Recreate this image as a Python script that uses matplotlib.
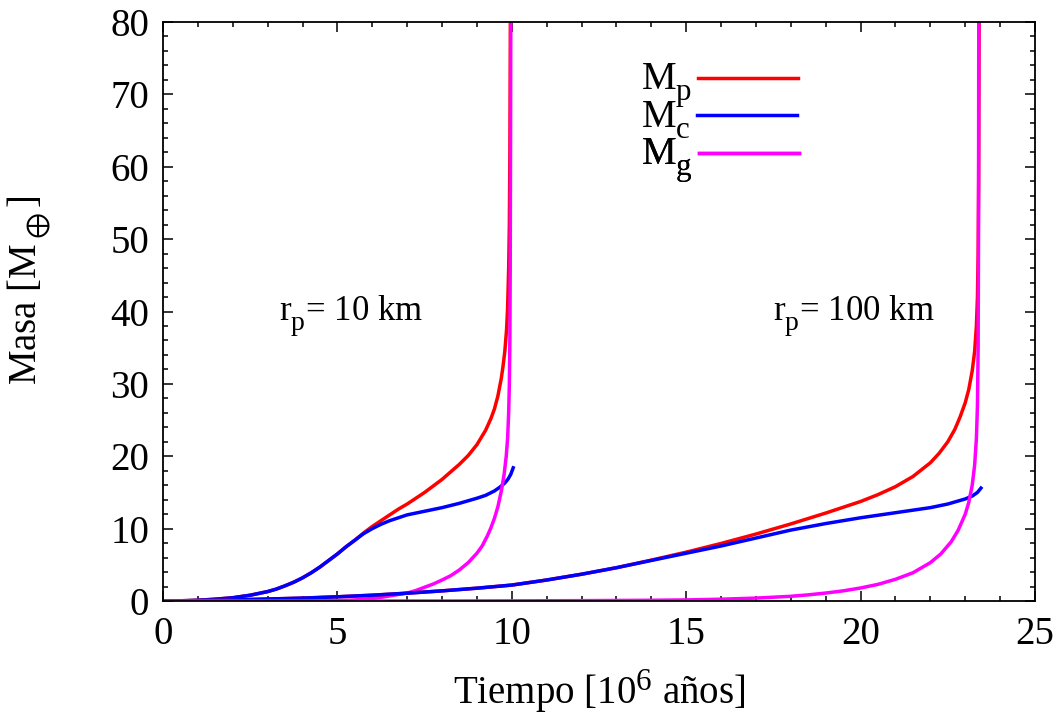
import matplotlib
matplotlib.use("Agg")
import matplotlib.pyplot as plt
from matplotlib.ticker import MultipleLocator

# gnuplot-like (bigger) sub/superscripts
try:
    import matplotlib._mathtext as _mt
    _mt.SHRINK_FACTOR = 0.8
    _mt.FontConstantsBase.sub1 = 0.6
    _mt.FontConstantsBase.sup1 = 0.7
except Exception:
    pass

plt.rcParams['font.family'] = ['Liberation Serif', 'DejaVu Serif']
plt.rcParams['mathtext.fontset'] = 'custom'
plt.rcParams['mathtext.rm'] = 'Liberation Serif'
plt.rcParams['mathtext.it'] = 'Liberation Serif:italic'
plt.rcParams['mathtext.fallback'] = 'stix'

# ---- r_p = 10 km ----
t_p10 = [0, 0.5, 1, 1.5, 2, 2.5, 3, 3.25, 3.5, 3.75, 4, 4.25, 4.5, 4.75, 5, 5.25,
         5.5, 5.75, 6, 6.25, 6.5, 6.75, 7, 7.5, 8, 8.5, 8.75, 9, 9.25, 9.4, 9.5,
         9.6, 9.7, 9.75, 9.8, 9.85, 9.88, 9.91, 9.93, 9.945, 9.955, 9.965]
Mp10 = [0, 0.03, 0.1, 0.25, 0.45, 0.8, 1.3, 1.65, 2.1, 2.6, 3.2, 3.9, 4.7, 5.6,
        6.5, 7.5, 8.4, 9.4, 10.3, 11.1, 11.9, 12.7, 13.4, 15.0, 16.8, 18.9, 20.1,
        21.6, 23.6, 25.2, 26.5, 28.3, 30.8, 32.5, 34.5, 37.5, 40.5, 46, 52, 62,
        75, 90]
t_c10 = [0, 0.5, 1, 1.5, 2, 2.5, 3, 3.25, 3.5, 3.75, 4, 4.25, 4.5, 4.75, 5, 5.25,
         5.5, 5.75, 6, 6.25, 6.5, 6.75, 7, 7.5, 8, 8.5, 9, 9.25, 9.5, 9.65, 9.8,
         9.9, 9.97, 10.04]
Mc10 = [0, 0.03, 0.1, 0.25, 0.45, 0.8, 1.3, 1.65, 2.1, 2.6, 3.2, 3.9, 4.7, 5.6,
        6.5, 7.5, 8.4, 9.3, 10.0, 10.6, 11.1, 11.5, 11.9, 12.4, 12.9, 13.5, 14.2,
        14.6, 15.2, 15.7, 16.3, 16.9, 17.5, 18.4]
t_g10 = [0, 3, 4.5, 5, 5.5, 6, 6.25, 6.5, 6.75, 7, 7.25, 7.5, 7.75, 8, 8.25, 8.5,
         8.75, 9, 9.15, 9.3, 9.4, 9.5, 9.6, 9.7, 9.78, 9.84, 9.88, 9.91, 9.93,
         9.945, 9.955, 9.965, 9.975]
Mg10 = [0, 0, 0.02, 0.05, 0.15, 0.35, 0.5, 0.7, 0.9, 1.1, 1.45, 1.9, 2.35, 2.9,
        3.5, 4.3, 5.3, 6.6, 7.6, 9.0, 10.1, 11.4, 13.0, 15.2, 17.5, 20.0, 22.5,
        26, 30, 36, 46, 65, 90]

# ---- r_p = 100 km ----
t_p100 = [0, 1, 2, 3, 4, 5, 6, 7, 8, 9, 10, 11, 12, 13, 14, 15, 16, 17, 18, 19,
          20, 20.5, 21, 21.5, 22, 22.25, 22.5, 22.7, 22.85, 23, 23.1, 23.2, 23.27,
          23.32, 23.35, 23.37, 23.385, 23.395, 23.405]
Mp100 = [0, 0.05, 0.15, 0.27, 0.4, 0.58, 0.8, 1.08, 1.4, 1.77, 2.2, 2.9, 3.7,
         4.6, 5.65, 6.75, 7.95, 9.25, 10.65, 12.15, 13.75, 14.7, 15.8, 17.2, 19.1,
         20.4, 22.0, 23.7, 25.4, 27.4, 29.2, 31.8, 34.5, 38, 42, 48, 58, 75, 90]
t_c100 = [0, 1, 2, 3, 4, 5, 6, 7, 8, 9, 10, 11, 12, 13, 14, 15, 16, 17, 18, 19,
          20, 21, 22, 22.5, 23, 23.2, 23.35, 23.45]
Mc100 = [0, 0.05, 0.15, 0.27, 0.4, 0.58, 0.8, 1.08, 1.4, 1.77, 2.2, 2.9, 3.7,
         4.6, 5.6, 6.6, 7.6, 8.7, 9.8, 10.7, 11.5, 12.2, 12.9, 13.4, 14.1, 14.5,
         15.0, 15.6]
t_g100 = [0, 8, 10, 12, 14, 15, 16, 17, 18, 18.5, 19, 19.5, 20, 20.5, 21, 21.5,
          22, 22.3, 22.6, 22.8, 23, 23.1, 23.2, 23.27, 23.32, 23.35, 23.37, 23.38,
          23.39]
Mg100 = [0, 0, 0.02, 0.05, 0.1, 0.15, 0.25, 0.4, 0.65, 0.85, 1.1, 1.4, 1.8, 2.3,
         3.0, 3.9, 5.3, 6.5, 8.2, 9.8, 12.0, 13.6, 16.0, 18.8, 22.5, 27, 35, 50, 90]

labels = ['M$_\\mathrm{p}$', 'M$_\\mathrm{c}$', 'M$_\\mathrm{g}$']
colors = ['#ff0000', '#0000ff', '#ff00ff']
annot = ['r$_\\mathrm{p}$= 10 km', 'r$_\\mathrm{p}$= 100 km']

fig = plt.figure(figsize=(10.59, 7.22), dpi=100)
ax = fig.add_axes([163/1059, 1 - 601/722, (1035-163)/1059, (601-22)/722])

lw = 2.5
lp, = ax.plot(t_p10, Mp10, color=colors[0], lw=lw)
lc, = ax.plot(t_c10, Mc10, color=colors[1], lw=lw)
lg, = ax.plot(t_g10, Mg10, color=colors[2], lw=lw)
ax.plot(t_p100, Mp100, color=colors[0], lw=lw)
ax.plot(t_c100, Mc100, color=colors[1], lw=lw)
ax.plot(t_g100, Mg100, color=colors[2], lw=lw)

ax.set_xlim(0, 25)
ax.set_ylim(0, 80)
ax.xaxis.set_major_locator(MultipleLocator(5))
ax.xaxis.set_minor_locator(MultipleLocator(1))
ax.yaxis.set_major_locator(MultipleLocator(10))
ax.yaxis.set_minor_locator(MultipleLocator(2))
ax.tick_params(which='both', direction='in', top=True, right=True, width=1.1,
               labelsize=28, colors='black')
ax.tick_params(which='major', length=7.5)
ax.tick_params(which='minor', length=3.8)
ax.tick_params(axis='x', pad=11)
ax.tick_params(axis='y', pad=10)
for s in ax.spines.values():
    s.set_linewidth(1.3)

ax.set_xlabel('Tiempo [10$^\\mathrm{6}$ años]', fontsize=28, labelpad=10)
ax.set_ylabel('Masa [M$_\\oplus$]', fontsize=28)
ax.yaxis.set_label_coords(-0.126, 0.537)

ax.text(5.4, 39.4, annot[0], fontsize=25, ha='center', va='center')
ax.text(19.8, 39.4, annot[1], fontsize=25, ha='center', va='center')

# legend: one entry per row, stacked like gnuplot's key
row_tops = [62, 99.5, 137]
for h, lab, yt in zip([lp, lc, lg], labels, row_tops):
    leg = ax.legend([h], [lab], loc='upper left',
                    bbox_to_anchor=(641/1059, 1 - yt/722),
                    bbox_transform=fig.transFigure, frameon=False,
                    markerfirst=False, fontsize=28, handlelength=2.57,
                    handleheight=0.5, handletextpad=0.15, borderpad=0,
                    borderaxespad=0)
    for ln in leg.get_lines():
        ln.set_linewidth(2.5)
    ax.add_artist(leg)

fig.savefig('out.png', dpi=100)
